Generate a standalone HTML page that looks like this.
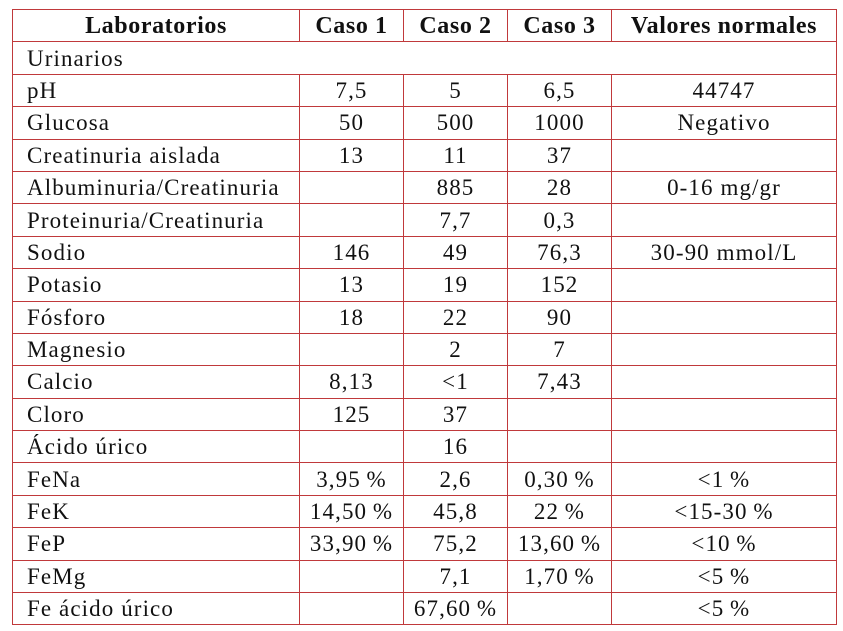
<!DOCTYPE html>
<html><head><meta charset="utf-8"><style>
html,body{margin:0;padding:0;background:#fff;width:843px;height:631px;overflow:hidden}
table{position:absolute;left:12px;top:9px;border-collapse:collapse;table-layout:fixed;font-family:"Liberation Serif",serif;font-size:23px;letter-spacing:1.1px;color:#111}
td,th{border:1.3px solid #c0393b;height:31.4px;padding:0;line-height:1;white-space:nowrap}
th{font-weight:bold;text-align:center;font-size:24px;letter-spacing:0.6px}
td{text-align:center}
td.l{text-align:left;padding-left:14px}
</style></head><body>
<table>
<colgroup><col style="width:287px"><col style="width:104px"><col style="width:104px"><col style="width:104px"><col style="width:225px"></colgroup>
<tr><th>Laboratorios</th><th>Caso 1</th><th>Caso 2</th><th>Caso 3</th><th>Valores normales</th></tr>
<tr><td class="l" colspan="5">Urinarios</td></tr>
<tr><td class="l">pH</td><td>7,5</td><td>5</td><td>6,5</td><td>44747</td></tr>
<tr><td class="l">Glucosa</td><td>50</td><td>500</td><td>1000</td><td>Negativo</td></tr>
<tr><td class="l">Creatinuria aislada</td><td>13</td><td>11</td><td>37</td><td></td></tr>
<tr><td class="l">Albuminuria/Creatinuria</td><td></td><td>885</td><td>28</td><td>0-16 mg/gr</td></tr>
<tr><td class="l">Proteinuria/Creatinuria</td><td></td><td>7,7</td><td>0,3</td><td></td></tr>
<tr><td class="l">Sodio</td><td>146</td><td>49</td><td>76,3</td><td>30-90 mmol/L</td></tr>
<tr><td class="l">Potasio</td><td>13</td><td>19</td><td>152</td><td></td></tr>
<tr><td class="l">Fósforo</td><td>18</td><td>22</td><td>90</td><td></td></tr>
<tr><td class="l">Magnesio</td><td></td><td>2</td><td>7</td><td></td></tr>
<tr><td class="l">Calcio</td><td>8,13</td><td>&lt;1</td><td>7,43</td><td></td></tr>
<tr><td class="l">Cloro</td><td>125</td><td>37</td><td></td><td></td></tr>
<tr><td class="l">Ácido úrico</td><td></td><td>16</td><td></td><td></td></tr>
<tr><td class="l">FeNa</td><td>3,95&#8201;%</td><td>2,6</td><td>0,30&#8201;%</td><td>&lt;1&#8201;%</td></tr>
<tr><td class="l">FeK</td><td>14,50&#8201;%</td><td>45,8</td><td>22&#8201;%</td><td>&lt;15-30&#8201;%</td></tr>
<tr><td class="l">FeP</td><td>33,90&#8201;%</td><td>75,2</td><td>13,60&#8201;%</td><td>&lt;10&#8201;%</td></tr>
<tr><td class="l">FeMg</td><td></td><td>7,1</td><td>1,70&#8201;%</td><td>&lt;5&#8201;%</td></tr>
<tr><td class="l">Fe ácido úrico</td><td></td><td>67,60&#8201;%</td><td></td><td>&lt;5&#8201;%</td></tr>
</table>
</body></html>
